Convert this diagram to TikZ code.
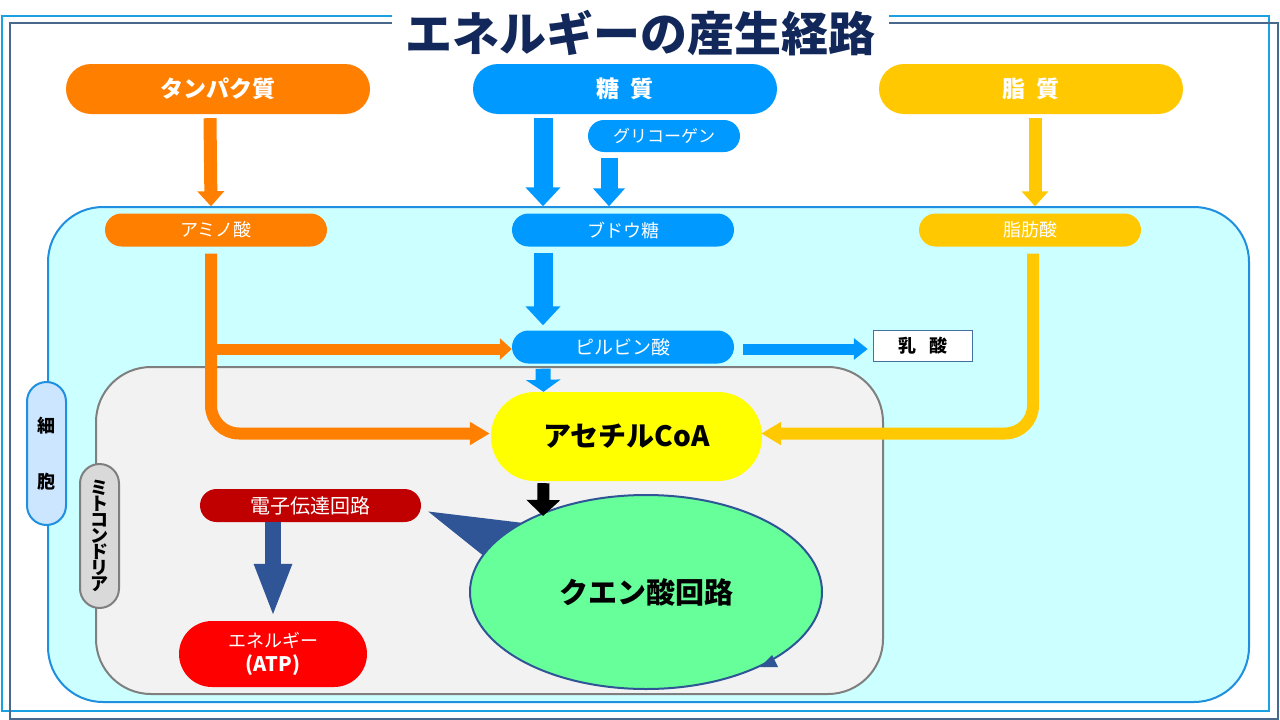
\documentclass[tikz,border=0pt]{standalone}
\usepackage{fontspec}
\setmainfont{Noto Sans CJK JP}
\usetikzlibrary{arrows.meta,shapes.geometric,calc}
\definecolor{frameA}{HTML}{1BA1E2}
\definecolor{frameB}{HTML}{48698C}
\definecolor{titleC}{HTML}{12285A}
\definecolor{orangeC}{HTML}{FF8000}
\definecolor{blueC}{HTML}{0099FF}
\definecolor{yellowC}{HTML}{FFC800}
\definecolor{cellF}{HTML}{CCFFFF}
\definecolor{cellB}{HTML}{1F8FE0}
\definecolor{mitoF}{HTML}{F2F2F2}
\definecolor{mitoB}{HTML}{7F7F7F}
\definecolor{acetylC}{HTML}{FFFF00}
\definecolor{citricC}{HTML}{66FF99}
\definecolor{navyC}{HTML}{2F5597}
\definecolor{etcC}{HTML}{C00000}
\definecolor{atpC}{HTML}{FF0000}
\definecolor{lacB}{HTML}{41719C}
\definecolor{cellLabF}{HTML}{CCE6FF}
\definecolor{mitoLabF}{HTML}{D9D9D9}
\pgfdeclarelayer{bg}
\pgfsetlayers{bg,main}
\tikzset{
  pill/.style={draw=none, inner sep=0pt, align=center, text=white},
  topbox/.style={pill, minimum width=304pt, minimum height=50pt, rounded corners=25pt, font=\fontsize{23}{23}\selectfont\bfseries},
  midbox/.style={pill, minimum width=222pt, minimum height=33pt, rounded corners=16.5pt, font=\fontsize{18}{18}\selectfont},
  oarrow/.style={draw=orangeC, line width=13pt, -{Triangle[width=26pt,length=15pt]}},
  yarrow/.style={draw=yellowC, line width=13pt, -{Triangle[width=26pt,length=15pt]}},
  barrow/.style={draw=blueC, line width=19pt, -{Triangle[width=34pt,length=19pt]}},
}
\begin{document}
\begin{tikzpicture}[x=1pt,y=-1pt]
\useasboundingbox (0,0) rectangle (1280,720);
\begin{pgfonlayer}{bg}
\fill[white] (0,0) rectangle (1280,720);
% frames
\draw[frameA, line width=2pt] (2,16) rectangle (1269,711);
\draw[frameB, line width=2pt] (10,23) rectangle (1278,719);
\fill[white] (392,0) rectangle (889,30);
\draw[draw=cellB, fill=cellF, line width=2pt, rounded corners=55pt] (48,207) rectangle (1249,702);
\draw[draw=mitoB, fill=mitoF, line width=2pt, rounded corners=55pt] (96,367) rectangle (883,694);
\end{pgfonlayer}
\node[inner sep=0pt, text=titleC, font=\fontsize{47}{47}\selectfont\bfseries] (title) at (640,33) {エネルギーの産生経路};

% nodes
\node[topbox, fill=orangeC] (protein) at (218,89) {タンパク質};
\node[topbox, fill=blueC] (sugar) at (625,89) {糖\hspace{0.45em}質};
\node[topbox, fill=yellowC] (lipid) at (1031,89) {脂\hspace{0.45em}質};
\node[midbox, fill=blueC, minimum width=152pt, minimum height=32pt, rounded corners=16pt, font=\fontsize{17}{17}\selectfont] (glycogen) at (664,136) {グリコーゲン};

\node[midbox, fill=orangeC] (amino) at (216,230) {アミノ酸};
\node[midbox, fill=blueC] (glucose) at (623,230) {ブドウ糖};
\node[midbox, fill=yellowC] (fatty) at (1030,230) {脂肪酸};
\node[midbox, fill=blueC, font=\fontsize{19}{19}\selectfont] (pyruvate) at (623,347) {ピルビン酸};
\node[draw=lacB, fill=white, line width=1.5pt, minimum width=99pt, minimum height=31pt, inner sep=0pt, font=\fontsize{18}{18}\selectfont\bfseries] (lactate) at (923,346) {乳\hspace{0.7em}酸};
\node[pill, text=black, fill=acetylC, minimum width=271pt, minimum height=89pt, rounded corners=44pt, font=\fontsize{28}{28}\selectfont\bfseries] (acetyl) at (626.5,436.5) {アセチルCoA};
\node[ellipse, draw=navyC, line width=2pt, fill=citricC, minimum width=352pt, minimum height=194pt, inner sep=0pt, font=\fontsize{29}{29}\selectfont\bfseries] (citric) at (646,592) {クエン酸回路};
\node[pill, fill=etcC, minimum width=221pt, minimum height=33pt, rounded corners=16.5pt, font=\fontsize{20}{20}\selectfont] (etc) at (310.5,505.5) {電子伝達回路};
\node[pill, fill=atpC, minimum width=188pt, minimum height=66pt, rounded corners=33pt, font=\fontsize{18}{24}\selectfont] (atp) at (273,654) {エネルギー\\{\fontsize{20}{24}\selectfont\bfseries (ATP)}};
\node[pill, text=black, draw=cellB, line width=2pt, fill=cellLabF, minimum width=39pt, minimum height=143pt, rounded corners=19.5pt, font=\fontsize{18}{56}\selectfont\bfseries] (celllab) at (46.5,453.5) {細\\胞};
\node[pill, text=black, draw=mitoB, line width=2pt, fill=mitoLabF, minimum width=39pt, minimum height=144pt, rounded corners=19.5pt, font=\fontsize{18}{16}\selectfont\bfseries] (mitolab) at (99.5,536) {ミ\\ト\\コ\\ン\\ド\\リ\\ア};

% wedge behind ellipse
\begin{pgfonlayer}{bg}
\fill[navyC] ($(etc.east)+(7,6)$) -- ($(citric.center)+(-106,-67)$) -- ($(citric.center)+(-151,-27)$) -- cycle;
\end{pgfonlayer}

% arrows
\draw[oarrow] ($(protein.south)+(-8,4)$) -- ($(amino.north)+(-5,-7)$);
\draw[barrow] ($(sugar.south)+(-82,4)$) -- ($(glucose.north)+(-80,-7)$);
\draw[draw=blueC, line width=17pt, -{Triangle[width=31pt,length=18pt]}] ($(glycogen.south)+(-55,6)$) -- ($(glucose.north)+(-14,-7)$);
\draw[yarrow] ($(lipid.south)+(4,4)$) -- ($(fatty.north)+(5,-7)$);
\draw[barrow] ($(glucose.south)+(-80,6)$) -- ($(pyruvate.north)+(-80,-5)$);
\draw[draw=orangeC, line width=12pt, rounded corners=28pt, -{Triangle[width=22pt,length=20pt]}] ($(amino.south)+(-5,7)$) |- ($(acetyl.west)+(-1,-3)$);
\draw[draw=orangeC, line width=11pt, -{Triangle[width=21pt,length=12pt]}] ($(amino.south |- pyruvate.west)+(-5,2)$) -- ($(pyruvate.west)+(0,2)$);
\draw[draw=yellowC, line width=12pt, rounded corners=28pt, -{Triangle[width=22pt,length=20pt]}] ($(fatty.south)+(3,7)$) |- ($(acetyl.east)+(-1,-3)$);
\draw[draw=blueC, line width=11pt, -{Triangle[width=21pt,length=14pt]}] ($(pyruvate.east)+(9,2)$) -- ($(lactate.west)+(-5,3)$);
\draw[draw=blueC, line width=15pt, -{Triangle[width=34pt,length=12pt]}] ($(pyruvate.south)+(-80,5)$) -- ($(acetyl.north)+(-83,0)$);
\coordinate (citricTop) at ($(citric.center)+(-103,-76)$);
\draw[draw=black, line width=12pt, -{Triangle[width=33pt,length=16pt]}] ($(acetyl.south)+(-83,2)$) -- (citricTop);
\draw[draw=navyC, line width=16pt, -{Triangle[width=34pt,length=54pt]}] (etc.south -| atp.north) -- ($(atp.north)+(0,-3)$);
% small arrowhead on the ellipse
\fill[navyC] ($(citric.center)+(114,75)$) -- ($(citric.center)+(126,63)$) -- ($(citric.center)+(132,75)$) -- cycle;
\end{tikzpicture}
\end{document}
